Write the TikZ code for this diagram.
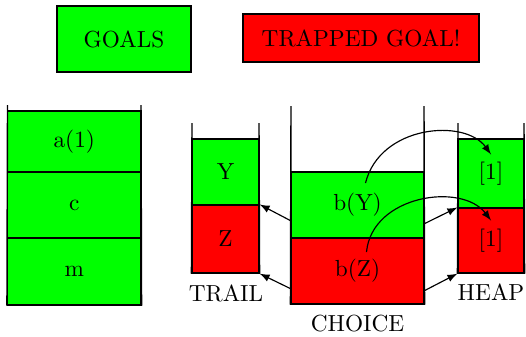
\documentclass[tikz,border=0pt]{standalone}
\usetikzlibrary{calc}
\definecolor{goalgreen}{RGB}{0,255,0}
\definecolor{trapred}{RGB}{255,0,0}
\begin{document}
\begin{tikzpicture}[x=0.43pt,y=-0.43pt,
  cell/.style={draw,line width=0.5pt,inner sep=0pt,font=\normalsize},
  good/.style={cell,fill=goalgreen},
  bad/.style={cell,fill=trapred},
  wall/.style={line width=0.6pt},
  link/.style={-latex,line width=0.5pt}]
\useasboundingbox (0,0) rectangle (526,336);

% legend
\node[good,minimum width=134*0.43pt,minimum height=66*0.43pt] (legG) at (124,39) {GOALS};
\node[bad,minimum width=236*0.43pt,minimum height=48*0.43pt] (legR) at (361,38) {TRAPPED GOAL!};

% goal stack
\node[good,minimum width=133.5*0.43pt,minimum height=61*0.43pt] (ga) at (74.25,141.5) {a(1)};
\node[good,minimum width=133.5*0.43pt,minimum height=66*0.43pt] (gc) at (74.25,205) {c};
\node[good,minimum width=133.5*0.43pt,minimum height=67*0.43pt] (gm) at (74.25,271.5) {m};
\draw[wall] (7.5,105) -- (gm.south west);
\draw[wall] (141,105) -- (gm.south east);

% trail
\node[good,minimum width=67*0.43pt,minimum height=66*0.43pt] (tY) at (225.5,172) {Y};
\node[bad,minimum width=67*0.43pt,minimum height=68*0.43pt] (tZ) at (225.5,239) {Z};
\draw[wall] (192,123) -- (tZ.south west);
\draw[wall] (259,123) -- (tZ.south east);
\node (trail) at (226,293) {TRAIL};

% choice points
\node[good,minimum width=133*0.43pt,minimum height=66*0.43pt] (cY) at (357.5,205) {b(Y)};
\node[bad,minimum width=133*0.43pt,minimum height=66*0.43pt] (cZ) at (357.5,271) {b(Z)};
\draw[wall] (291,106) -- (cZ.south west);
\draw[wall] (424,106) -- (cZ.south east);
\node (choice) at (357.5,324) {CHOICE};

% heap
\node[good,minimum width=66*0.43pt,minimum height=69*0.43pt] (hY) at (491,173.5) {[1]};
\node[bad,minimum width=66*0.43pt,minimum height=65*0.43pt] (hZ) at (491,240.5) {[1]};
\draw[wall] (458,123) -- (hZ.south west);
\draw[wall] (524,123) -- (hZ.south east);
\node (heap) at (491,292) {HEAP};

% choice point -> trail / heap
\draw[link] ($(cY.south west)+(0,-18)$) -- (tZ.north east);
\draw[link] ($(cZ.south west)+(0,-16)$) -- (tZ.south east);
\draw[link] ($(cY.south east)+(0,-15)$) -- (hZ.north west);
\draw[link] ($(cZ.south east)+(0,-14)$) -- (hZ.south west);

% bindings pointing into the heap
\coordinate (sY) at ($(cY.center)+(8,-22)$);
\coordinate (sZ) at ($(cZ.center)+(9,-19)$);
\coordinate (eY) at ($(hY.center)+(0,-19)$);
\coordinate (eZ) at ($(hZ.center)+(0,-20)$);
\draw[link] (sY) .. controls (380,125) and (465,118) .. (eY);
\draw[link] (sZ) .. controls (372,195) and (462,182) .. (eZ);
\end{tikzpicture}
\end{document}
